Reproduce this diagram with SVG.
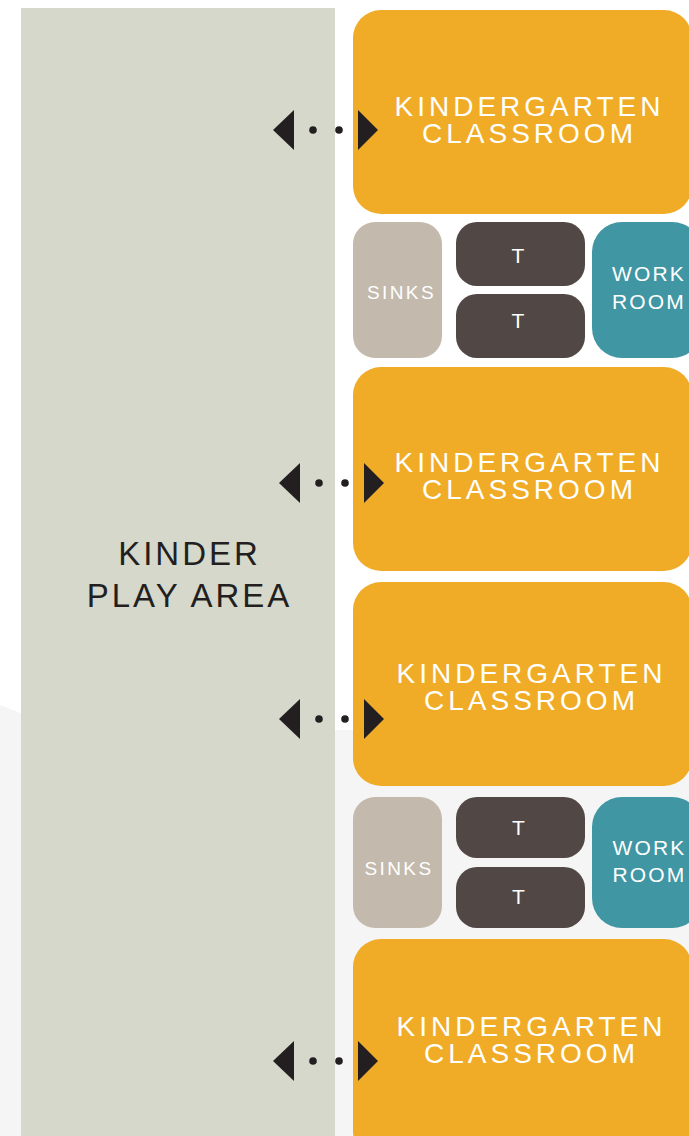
<svg xmlns="http://www.w3.org/2000/svg" width="689" height="1136" viewBox="0 0 689 1136">
<style>
.cls{fill:#f0ac27}
.sink{fill:#c3baad}
.toil{fill:#514846}
.work{fill:#4096a3}
.lbl{font-family:"Liberation Sans",Arial,sans-serif;fill:#ffffff;text-anchor:middle}
.big{font-size:28px;letter-spacing:4px}
.sm{font-size:19px;letter-spacing:2.4px}
.tt{font-size:21px}
.wk{font-size:21px;letter-spacing:2.2px}
.play{font-family:"Liberation Sans",Arial,sans-serif;font-size:33px;letter-spacing:3px;fill:#231f20;text-anchor:middle}
.ar{fill:#231f20}
</style>
<defs>
<g id="arrow">
<polygon points="0,0 21,-20 21,20"/>
<circle cx="40" cy="0" r="3.8"/>
<circle cx="66" cy="0" r="3.8"/>
<polygon points="85,-20 105,0 85,20"/>
</g>
</defs>
<rect x="0" y="0" width="689" height="1136" fill="#ffffff"/>
<path d="M0,705 C20,712 35,722 60,722 L340,730 L689,730 L689,1136 L0,1136 Z" fill="#f5f5f5"/>
<g id="play-area">
<rect x="21" y="8" width="314" height="1140" fill="#d6d8cb"/>
<text class="play" x="189.5" y="565">KINDER</text>
<text class="play" x="189.5" y="607">PLAY AREA</text>
</g>
<g id="classroom1">
<rect class="cls" x="353" y="10" width="339" height="204" rx="28"/>
<text class="lbl big" x="529.5" y="116">KINDERGARTEN</text>
<text class="lbl big" x="529.5" y="143">CLASSROOM</text>
</g>
<g id="sinks1">
<rect class="sink" x="353" y="222" width="89" height="136" rx="22"/>
<text class="lbl sm" x="401.5" y="299">SINKS</text>
</g>
<g id="t1a">
<rect class="toil" x="456" y="222" width="129" height="64" rx="21"/>
<text class="lbl tt" x="518" y="263">T</text>
</g>
<g id="t1b">
<rect class="toil" x="456" y="294" width="129" height="64" rx="21"/>
<text class="lbl tt" x="518" y="328">T</text>
</g>
<g id="work1">
<rect class="work" x="592" y="222" width="110" height="136" rx="30"/>
<text class="lbl wk" x="649" y="281">WORK</text>
<text class="lbl wk" x="649" y="309">ROOM</text>
</g>
<g id="classroom2">
<rect class="cls" x="353" y="367" width="339" height="204" rx="28"/>
<text class="lbl big" x="529.5" y="472">KINDERGARTEN</text>
<text class="lbl big" x="529.5" y="499">CLASSROOM</text>
</g>
<g id="classroom3">
<rect class="cls" x="353" y="582" width="339" height="204" rx="28"/>
<text class="lbl big" x="531.5" y="683">KINDERGARTEN</text>
<text class="lbl big" x="531.5" y="709.5">CLASSROOM</text>
</g>
<g id="sinks2">
<rect class="sink" x="353" y="797" width="89" height="131" rx="22"/>
<text class="lbl sm" x="399" y="874.5">SINKS</text>
</g>
<g id="t2a">
<rect class="toil" x="456" y="797" width="129" height="61" rx="21"/>
<text class="lbl tt" x="518.5" y="834.5">T</text>
</g>
<g id="t2b">
<rect class="toil" x="456" y="867" width="129" height="61" rx="21"/>
<text class="lbl tt" x="518.5" y="904">T</text>
</g>
<g id="work2">
<rect class="work" x="592" y="797" width="110" height="131" rx="30"/>
<text class="lbl wk" x="649.5" y="854.5">WORK</text>
<text class="lbl wk" x="649.5" y="882">ROOM</text>
</g>
<g id="classroom4">
<rect class="cls" x="353" y="939" width="339" height="220" rx="28"/>
<text class="lbl big" x="531.5" y="1036">KINDERGARTEN</text>
<text class="lbl big" x="531.5" y="1063">CLASSROOM</text>
</g>
<g id="connectors" class="ar">
<use href="#arrow" x="273" y="130"/>
<use href="#arrow" x="279" y="483"/>
<use href="#arrow" x="279" y="719"/>
<use href="#arrow" x="273" y="1061"/>
</g>
</svg>
